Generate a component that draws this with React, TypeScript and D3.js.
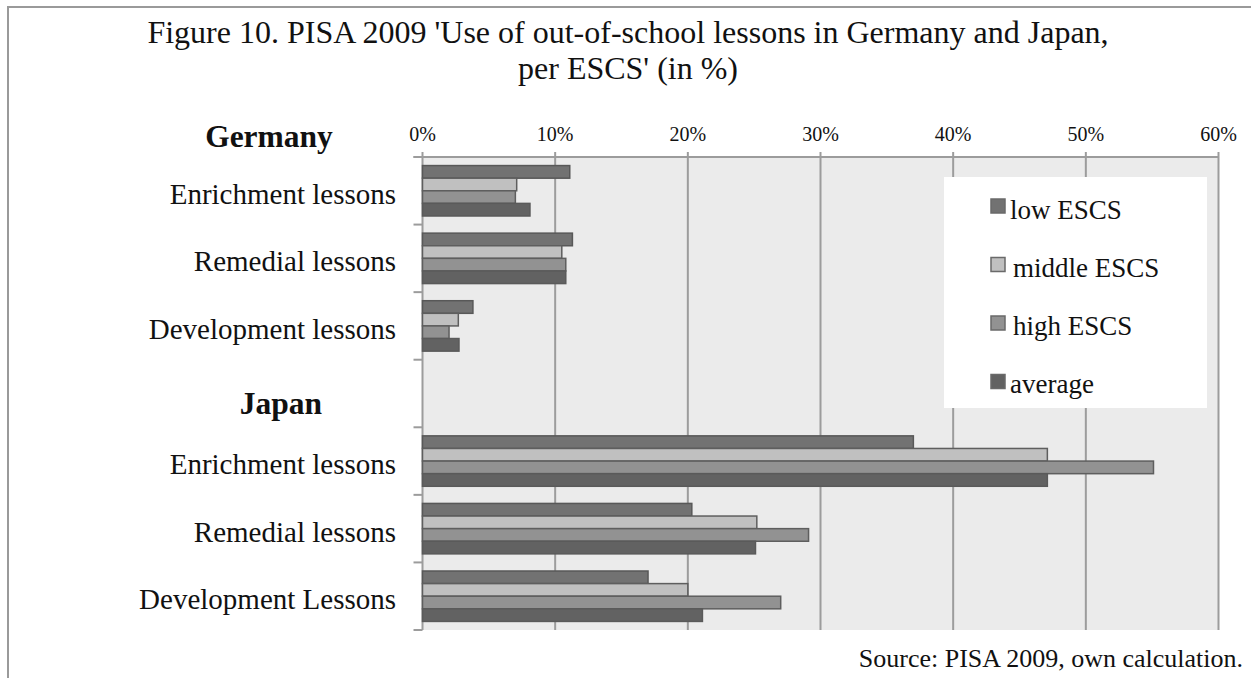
import React from "react";
import * as d3 from "d3";

const categories = [
  "Enrichment lessons",
  "Remedial lessons",
  "Development lessons",
  "",
  "Enrichment lessons",
  "Remedial lessons",
  "Development Lessons",
];
const seriesNames = ["low ESCS", "middle ESCS", "high ESCS", "average"];
const lowESCS = [11.1, 11.3, 3.8, null, 37.0, 20.3, 17.0];
const middleESCS = [7.1, 10.5, 2.7, null, 47.1, 25.2, 20.0];
const highESCS = [7.0, 10.8, 2.0, null, 55.1, 29.1, 27.0];
const average = [8.1, 10.8, 2.75, null, 47.1, 25.1, 21.1];
const xTicks = [0, 10, 20, 30, 40, 50, 60];
const groupLabels = ["Germany", "Japan"];
const titleLines = [
  "Figure 10. PISA 2009 'Use of out-of-school lessons in Germany and Japan,",
  "per ESCS' (in %)",
];
const sourceText = "Source: PISA 2009, own calculation.";

const seriesValues = [lowESCS, middleESCS, highESCS, average];
const fills = ["#727272", "#c0c0c0", "#929292", "#626262"];
const strokes = ["#585858", "#5e5e5e", "#5e5e5e", "#5a5a5a"];
const FONT = "'Liberation Serif', 'Times New Roman', serif";

export default function App() {
  const left = 422.5, right = 1218.5, top = 157, bottom = 630;
  const x = d3.scaleLinear().domain([0, 60]).range([left, right]);
  const slot = d3.scaleBand<number>().domain(d3.range(categories.length)).range([top, bottom]).padding(0);
  const inner = d3
    .scaleBand<number>()
    .domain(d3.range(4))
    .range([0, slot.bandwidth()])
    .paddingInner(0)
    .paddingOuter(0.68);
  const slotEdges = d3.range(categories.length + 1).map((i) => top + i * slot.step());

  return (
    <svg
      width={1251}
      height={678}
      style={{ position: "absolute", left: 0, top: 0, background: "#fff" }}
      fontFamily={FONT}
    >
      <rect x={8} y={7} width={1400} height={800} fill="#fff" stroke="#9a9a9a" strokeWidth={2} />
      {titleLines.map((t, i) => (
        <text key={i} x={628} y={43 + i * 36} textAnchor="middle" fontSize={32} fill="#111">
          {t}
        </text>
      ))}
      <rect x={left} y={top} width={right - left} height={bottom - top} fill="#ebebeb" />
      {xTicks.map((t) => (
        <g key={t}>
          {t > 0 && <line x1={x(t)} x2={x(t)} y1={top} y2={bottom} stroke="#9c9c9c" strokeWidth={2} />}
          <line x1={x(t)} x2={x(t)} y1={top - 5} y2={top} stroke="#9c9c9c" strokeWidth={2} />
          <text x={x(t)} y={141} textAnchor="middle" fontSize={20} fill="#111">
            {t + "%"}
          </text>
        </g>
      ))}
      <line x1={left - 9} x2={right} y1={top} y2={top} stroke="#9c9c9c" strokeWidth={2} />
      <line x1={left} x2={left} y1={top} y2={bottom} stroke="#9c9c9c" strokeWidth={2} />
      {slotEdges.map((y, i) => (
        <line key={i} x1={left - 9} x2={left} y1={y} y2={y} stroke="#9c9c9c" strokeWidth={2} />
      ))}
      {categories.map((c, i) =>
        c ? (
          <text key={i} x={396} y={(slot(i) as number) + slot.bandwidth() / 2 + 13} textAnchor="end" fontSize={29} fill="#111">
            {c}
          </text>
        ) : null
      )}
      <text x={269} y={147} textAnchor="middle" fontSize={31.5} fontWeight="bold" fill="#111">
        {groupLabels[0]}
      </text>
      <text x={281} y={414} textAnchor="middle" fontSize={31.5} fontWeight="bold" fill="#111">
        {groupLabels[1]}
      </text>
      {seriesValues.map((vals, s) =>
        vals.map((v, i) =>
          v == null ? null : (
            <rect
              key={s + "-" + i}
              x={x(0)}
              y={(slot(i) as number) + (inner(s) as number)}
              width={x(v) - x(0)}
              height={inner.bandwidth()}
              fill={fills[s]}
              stroke={strokes[s]}
              strokeWidth={1.5}
            />
          )
        )
      )}
      <rect x={944} y={177} width={263} height={231} fill="#fff" />
      {seriesNames.map((n, i) => (
        <g key={n}>
          <rect x={991} y={199 + i * 58.5} width={14} height={14} fill={fills[i]} stroke="#6a6a6a" strokeWidth={1.5} />
          <text x={i === 1 || i === 2 ? 1013 : 1010} y={219 + i * 58} fontSize={27} fill="#111">
            {n}
          </text>
        </g>
      ))}
      <text x={1243} y={667} textAnchor="end" fontSize={26} fill="#111">
        {sourceText}
      </text>
    </svg>
  );
}
